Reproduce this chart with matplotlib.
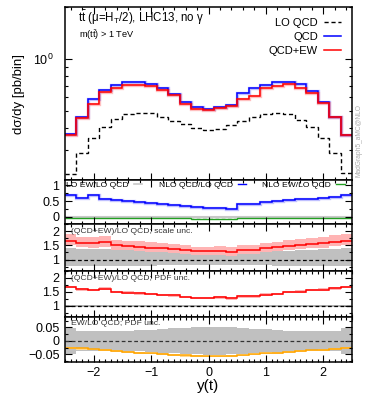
import numpy as np
import matplotlib
matplotlib.use("Agg")
import matplotlib.pyplot as plt
import matplotlib.lines as mlines
from matplotlib.ticker import MultipleLocator, LogLocator, NullFormatter, FixedLocator, FixedFormatter

plt.rcParams['font.family'] = ['Liberation Sans', 'DejaVu Sans']
plt.rcParams['mathtext.fontset'] = 'custom'
plt.rcParams['mathtext.rm'] = 'Liberation Sans'
plt.rcParams['mathtext.it'] = 'Liberation Sans:italic'

# bin edges in y(t), 25 bins of 0.2
edges = np.linspace(-2.5, 2.5, 26)

# main panel, pb/bin
lo_qcd = [0.216, 0.285, 0.348, 0.407, 0.449, 0.480, 0.487, 0.487, 0.465, 0.441, 0.420, 0.398, 0.390,
          0.393, 0.416, 0.439, 0.461, 0.482, 0.491, 0.480, 0.445, 0.407, 0.348, 0.285, 0.220]
nlo_qcd = [0.367, 0.465, 0.587, 0.659, 0.708, 0.737, 0.737, 0.718, 0.680, 0.628, 0.566, 0.530, 0.513,
           0.527, 0.544, 0.636, 0.680, 0.708, 0.740, 0.733, 0.714, 0.650, 0.568, 0.465, 0.364]
nlo_qcd_ew = [0.362, 0.459, 0.551, 0.641, 0.680, 0.711, 0.704, 0.695, 0.659, 0.616, 0.551, 0.515, 0.508,
              0.518, 0.539, 0.587, 0.613, 0.680, 0.701, 0.720, 0.680, 0.636, 0.561, 0.461, 0.364]

# panel 2
k_qcd = [0.68, 0.61, 0.68, 0.56, 0.53, 0.50, 0.48, 0.43, 0.42, 0.37, 0.33, 0.31, 0.29,
         0.29, 0.26, 0.42, 0.42, 0.48, 0.51, 0.53, 0.55, 0.58, 0.61, 0.64, 0.68]
lo_ew = [0.003] * 25

# EW/LO QCD (panel 2 green, panel 5 orange)
ew_lo = [-0.026, -0.028, -0.031, -0.033, -0.036, -0.040, -0.043, -0.046, -0.048, -0.052, -0.054, -0.056, -0.057,
         -0.057, -0.056, -0.053, -0.049, -0.046, -0.043, -0.041, -0.037, -0.035, -0.033, -0.030, -0.025]

# (QCD+EW)/LO QCD
ratio = [1.67, 1.59, 1.57, 1.62, 1.50, 1.47, 1.45, 1.42, 1.39, 1.38, 1.32, 1.29, 1.29,
         1.30, 1.27, 1.34, 1.34, 1.40, 1.43, 1.49, 1.51, 1.56, 1.58, 1.63, 1.67]
scale_hi = [1.90, 1.81, 1.79, 1.84, 1.70, 1.67, 1.64, 1.61, 1.58, 1.56, 1.50, 1.46, 1.46,
            1.47, 1.44, 1.52, 1.52, 1.59, 1.62, 1.69, 1.71, 1.77, 1.79, 1.85, 1.90]
scale_lo = [1.50, 1.43, 1.41, 1.46, 1.35, 1.32, 1.30, 1.28, 1.25, 1.24, 1.19, 1.16, 1.16,
            1.17, 1.14, 1.21, 1.21, 1.26, 1.29, 1.34, 1.36, 1.40, 1.42, 1.47, 1.50]
lo_scale_hi = [1.42, 1.37, 1.37, 1.38, 1.33, 1.32, 1.31, 1.30, 1.28, 1.27, 1.25, 1.22, 1.21,
               1.22, 1.23, 1.25, 1.26, 1.28, 1.30, 1.31, 1.33, 1.35, 1.37, 1.38, 1.42]
lo_scale_lo = [0.76, 0.77, 0.77, 0.77, 0.78, 0.78, 0.79, 0.79, 0.80, 0.80, 0.81, 0.82, 0.82,
               0.82, 0.81, 0.81, 0.80, 0.80, 0.79, 0.79, 0.78, 0.78, 0.77, 0.77, 0.76]
ratio_pdf = [0.045] * 25
lo_pdf = [0.035] * 25

# EW/LO pdf band
ew_pdf = [0.048, 0.036, 0.036, 0.036, 0.037, 0.038, 0.039, 0.041, 0.043, 0.046, 0.048, 0.050, 0.052,
          0.051, 0.050, 0.047, 0.045, 0.042, 0.040, 0.038, 0.037, 0.036, 0.036, 0.036, 0.048]

lo_qcd = np.array(lo_qcd); nlo_qcd = np.array(nlo_qcd); nlo_qcd_ew = np.array(nlo_qcd_ew)
ratio = np.array(ratio); ew_lo = np.array(ew_lo)

fig = plt.figure(figsize=(3.74, 4.08), dpi=100)
gs = fig.add_gridspec(5, 1, height_ratios=[173, 44, 47, 46, 45], hspace=0,
                      left=65/374, right=352/374, top=1-7/408, bottom=1-362/408)
axs = [fig.add_subplot(gs[i]) for i in range(5)]

blue = '#0000ff'
red = '#ff0000'

def dbl(ax, vals, c):
    ax.stairs(vals, edges, baseline=None, color=c, lw=2.4, alpha=0.25)
    ax.stairs(vals, edges, baseline=None, color=c, lw=1.1)

# main panel
ax = axs[0]
ax.stairs(lo_qcd, edges, baseline=None, color='k', lw=1.0, ls=(0, (3, 2)))
dbl(ax, nlo_qcd, blue)
dbl(ax, nlo_qcd_ew, red)
ax.set_yscale('log')
ax.set_ylim(0.2, 2.0)
ax.yaxis.set_major_locator(FixedLocator([1.0]))
ax.yaxis.set_major_formatter(FixedFormatter([r'$\mathregular{10^0}$']))
ax.yaxis.set_minor_locator(LogLocator(base=10, subs=np.arange(2, 10)))
ax.yaxis.set_minor_formatter(NullFormatter())
ax.set_ylabel('dσ/dy [pb/bin]', fontsize=9.5, labelpad=6)
ax.text(0.045, 0.935, r'$\mathrm{t\bar{t}}$ (μ=H$_\mathrm{T}$/2), LHC13, no γ', transform=ax.transAxes,
        fontsize=8.3, va='center', ha='left')
ax.text(0.05, 0.835, r'm($\mathrm{t\bar{t}}$) > 1 TeV', transform=ax.transAxes,
        fontsize=6.6, va='center', ha='left')
hl = [mlines.Line2D([], [], color='k', lw=1.0, ls=(0, (3, 2))),
      mlines.Line2D([], [], color=blue, lw=1.1),
      mlines.Line2D([], [], color=red, lw=1.1)]
ax.legend(hl, ['LO QCD', 'QCD', 'QCD+EW'], loc='upper right', markerfirst=False, frameon=False,
          fontsize=8, handlelength=1.6, labelspacing=0.38, borderaxespad=0.55, handletextpad=0.5)
ax.text(1.012, 0.02, 'MadGraph5_aMC@NLO', transform=ax.transAxes, rotation=90,
        fontsize=4.8, color='#aaaaaa', va='bottom', ha='left')

# panel 2
ax = axs[1]
ax.axhline(0, color='k', lw=0.9, ls=(0, (3, 2)), zorder=1)
ax.stairs(lo_ew, edges, baseline=None, color='#c8c8c8', lw=1.5)
dbl(ax, k_qcd, blue)
ax.stairs(ew_lo, edges, baseline=None, color='#22a022', lw=1.0)
ax.set_ylim(-0.23, 1.17)
ax.yaxis.set_major_locator(FixedLocator([0, 0.5, 1]))
ax.yaxis.set_major_formatter(FixedFormatter(['0', '0.5', '1']))
ax.yaxis.set_minor_locator(MultipleLocator(0.25))
hl2 = [mlines.Line2D([], [], color='#c8c8c8', lw=1.2),
       mlines.Line2D([], [], color=blue, lw=1.0),
       mlines.Line2D([], [], color='#22a022', lw=1.0)]
ax.legend(hl2, ['LO EW/LO QCD', 'NLO QCD/LO QCD', 'NLO EW/LO QCD'], loc='upper left', ncol=3,
          markerfirst=False, frameon=False, fontsize=6.1, handlelength=1.0, columnspacing=1.9,
          handletextpad=0.6, borderaxespad=0.0, borderpad=0.15)

# panel 3
ax = axs[2]
ax.stairs(lo_scale_hi, edges, baseline=lo_scale_lo, fill=True, color='#c0c0c0', lw=0)
ax.stairs(scale_hi, edges, baseline=scale_lo, fill=True, color='#ffb4b4', lw=0)
ax.axhline(1, color='k', lw=0.9, ls=(0, (3, 2)))
ax.stairs(ratio, edges, baseline=None, color=red, lw=1.1)
ax.set_ylim(0.6, 2.25)
ax.text(0.02, 0.83, '(QCD+EW)/LO QCD; scale unc.', transform=ax.transAxes, fontsize=6.1,
        color='#333333', va='center')

# panel 4
ax = axs[3]
ax.stairs(1 + np.array(lo_pdf), edges, baseline=1 - np.array(lo_pdf), fill=True, color='#b0b0b0', lw=0)
ax.axhline(1, color='k', lw=0.9, ls=(0, (3, 2)))
ax.stairs(ratio + np.array(ratio_pdf), edges, baseline=ratio - np.array(ratio_pdf), fill=True,
          color='#ffb4b4', lw=0)
ax.stairs(ratio, edges, baseline=None, color=red, lw=1.1)
ax.set_ylim(0.6, 2.25)
ax.text(0.02, 0.84, '(QCD+EW)/LO QCD; PDF unc.', transform=ax.transAxes, fontsize=6.1,
        color='#333333', va='center')

for ax in axs[2:4]:
    ax.yaxis.set_major_locator(FixedLocator([1, 1.5, 2]))
    ax.yaxis.set_major_formatter(FixedFormatter(['1', '1.5', '2']))
    ax.yaxis.set_minor_locator(MultipleLocator(0.25))

# panel 5
ax = axs[4]
ax.stairs(np.array(ew_pdf), edges, baseline=-np.array(ew_pdf), fill=True, color='#c0c0c0', lw=0)
ax.axhline(0, color='#333333', lw=0.9, ls=(0, (3, 2)))
ax.stairs(ew_lo + 0.002, edges, baseline=ew_lo - 0.004, fill=True, color='#ffd890', lw=0)
ax.stairs(ew_lo, edges, baseline=None, color='#ffa500', lw=1.1)
ax.set_ylim(-0.078, 0.088)
ax.yaxis.set_major_locator(FixedLocator([-0.05, 0, 0.05]))
ax.yaxis.set_major_formatter(FixedFormatter(['−0.05', '0', '0.05']))
ax.yaxis.set_minor_locator(MultipleLocator(0.025))
ax.text(0.02, 0.85, 'EW/LO QCD; PDF unc.', transform=ax.transAxes, fontsize=6.1,
        color='#333333', va='center')
ax.set_xlabel('y(t)', fontsize=11, labelpad=0)
ax.xaxis.set_major_formatter(matplotlib.ticker.FuncFormatter(
    lambda v, p: ('−%d' % abs(v)) if v < 0 else '%d' % v))

for i, ax in enumerate(axs):
    ax.set_xlim(-2.5, 2.5)
    ax.xaxis.set_major_locator(MultipleLocator(1))
    ax.xaxis.set_minor_locator(MultipleLocator(0.2 if i < 3 else 0.1))
    ax.tick_params(which='both', direction='in', top=True, right=True, width=0.8, labelsize=9)
    ax.tick_params(which='major', length=5)
    ax.tick_params(which='minor', length=2.5)
    ax.tick_params(axis='y', pad=4)
    for s in ax.spines.values():
        s.set_linewidth(1.1)
    if i < 4:
        ax.tick_params(labelbottom=False)
axs[0].tick_params(axis='y', which='major', pad=8)

fig.savefig('out.png', dpi=100)
